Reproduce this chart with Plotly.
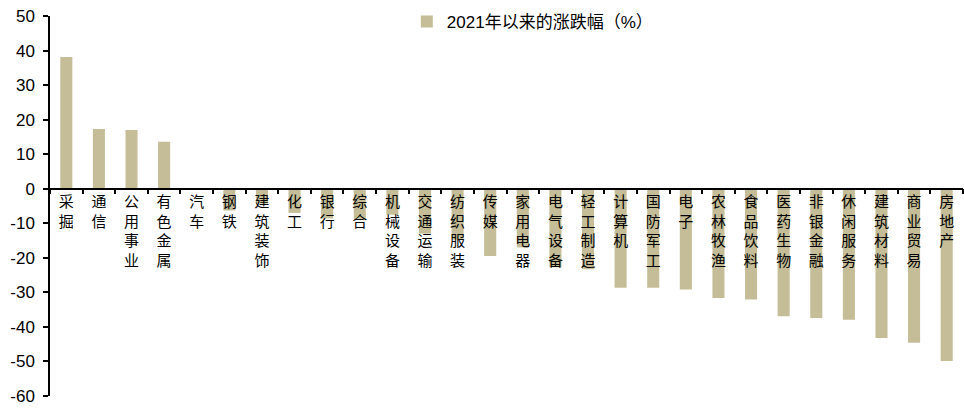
import plotly.graph_objects as go

categories = ["采掘", "通信", "公用事业", "有色金属", "汽车", "钢铁", "建筑装饰", "化工", "银行", "综合",
              "机械设备", "交通运输", "纺织服装", "传媒", "家用电器", "电气设备", "轻工制造", "计算机",
              "国防军工", "电子", "农林牧渔", "食品饮料", "医药生物", "非银金融", "休闲服务", "建筑材料",
              "商业贸易", "房地产"]
values = [38.1, 17.3, 17.0, 13.6, -0.2, -6.3, -4.3, -7.0, -8.6, -8.7,
          -7.5, -13.0, -14.7, -19.5, -17.0, -22.7, -23.3, -28.7,
          -28.7, -29.2, -31.6, -32.1, -36.9, -37.4, -37.9, -43.2,
          -44.6, -49.9]
series_name = "2021年以来的涨跌幅（%）"
y_ticks = [50, 40, 30, 20, 10, 0, -10, -20, -30, -40, -50, -60]

ymin, ymax = -60, 50
vertical_labels = ["<br>".join(list(c)) for c in categories]

fig = go.Figure()
fig.add_trace(go.Bar(
    x=categories, y=values, name=series_name,
    marker=dict(color="#C4BD97", line=dict(width=0)),
    width=0.37,
))

fig.update_layout(
    width=964, height=408,
    margin=dict(l=50, r=1, t=16, b=12, autoexpand=False),
    paper_bgcolor="white", plot_bgcolor="white",
    font=dict(family="Liberation Sans, Arial, Noto Sans CJK SC", color="black"),
    showlegend=True,
    legend=dict(
        xref="container", yref="container",
        x=0.422, y=1 - 22 / 408, xanchor="left", yanchor="middle",
        font=dict(size=17, family="Liberation Sans, Noto Sans CJK SC", color="black"),
        bgcolor="rgba(0,0,0,0)", itemwidth=30,
    ),
    bargap=0.63,
)

fig.update_yaxes(
    range=[ymin, ymax], tickvals=y_ticks, ticktext=[str(t) for t in y_ticks],
    showgrid=False, zeroline=False, automargin=False,
    showline=True, linecolor="black", linewidth=1.5,
    ticks="outside", ticklen=5, tickcolor="black", tickwidth=1.5,
    ticklabelstandoff=5,
    tickfont=dict(size=17, family="Liberation Sans, Arial"),
)

fig.update_xaxes(
    type="category", range=[-0.5, len(categories) - 0.5],
    tickvals=categories, ticktext=vertical_labels,
    anchor="free", position=(0 - ymin) / (ymax - ymin),
    showline=True, linecolor="black", linewidth=1.5,
    ticks="outside", ticklen=5, tickcolor="black", tickwidth=1.5,
    tickson="boundaries", automargin=False,
    showgrid=False, zeroline=False,
    tickangle=0,
    tickfont=dict(size=15, family="Noto Sans CJK SC"),
)

fig.write_html(
    "out.html",
    config={"displayModeBar": False},
    post_script="document.body.style.margin='0';document.body.style.overflow='hidden';",
)
